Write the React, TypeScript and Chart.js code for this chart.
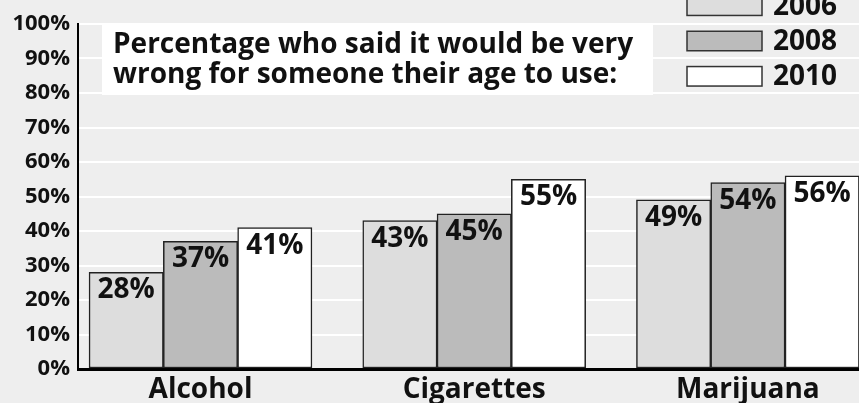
import React, { useEffect, useRef } from "react";
import { Chart, registerables } from "chart.js";

Chart.register(...registerables);

const categories = ["Alcohol", "Cigarettes", "Marijuana"];
const seriesLabels = ["2006", "2008", "2010"];
const values2006 = [28, 43, 49];
const values2008 = [37, 45, 54];
const values2010 = [41, 55, 56];
const seriesValues = [values2006, values2008, values2010];
const seriesColors = ["#dddddd", "#bbbbbb", "#ffffff"];
const yTicks = [0, 10, 20, 30, 40, 50, 60, 70, 80, 90, 100];
const titleLines = [
  "Percentage who said it would be very",
  "wrong for someone their age to use:",
];

const FONT = '"Open Sans", "Liberation Sans", sans-serif';
const W = 859;
const H = 403;

const bgPlugin = {
  id: "bg",
  beforeDraw(chart: any) {
    const ctx = chart.ctx;
    ctx.save();
    ctx.fillStyle = "#eeeeee";
    ctx.fillRect(0, 0, chart.width, chart.height);
    ctx.restore();
  },
};

const labelPlugin = {
  id: "valueLabels",
  afterDatasetsDraw(chart: any) {
    const ctx = chart.ctx;
    ctx.save();
    ctx.font = `bold 28px ${FONT}`;
    ctx.fillStyle = "#111";
    ctx.textAlign = "center";
    ctx.textBaseline = "alphabetic";
    chart.data.datasets.forEach((ds: any, di: number) => {
      const meta = chart.getDatasetMeta(di);
      meta.data.forEach((el: any, i: number) => {
        const v = ds.data[i].y;
        ctx.fillText(v + "%", el.x, el.y + 26);
      });
    });
    ctx.restore();
  },
};

const overlayPlugin = {
  id: "overlay",
  afterDraw(chart: any) {
    const ctx = chart.ctx;
    ctx.save();
    // title box
    ctx.fillStyle = "#ffffff";
    ctx.fillRect(102, 23, 551, 72);
    ctx.fillStyle = "#111";
    ctx.font = `bold 28px ${FONT}`;
    ctx.textAlign = "left";
    ctx.textBaseline = "alphabetic";
    titleLines.forEach((t, i) => ctx.fillText(t, 113, 53 + i * 30));
    // legend
    chart.data.datasets.forEach((ds: any, i: number) => {
      const cy = 76.3 - (chart.data.datasets.length - 1 - i) * 35.3;
      ctx.fillStyle = ds.backgroundColor;
      ctx.fillRect(687, cy - 9.75, 75, 19.5);
      ctx.strokeStyle = "#333";
      ctx.lineWidth = 1.5;
      ctx.strokeRect(687, cy - 9.75, 75, 19.5);
      ctx.fillStyle = "#111";
      ctx.font = `bold 28px ${FONT}`;
      ctx.textBaseline = "middle";
      ctx.fillText(ds.label, 773, cy + 1);
    });
    ctx.restore();
  },
};

export default function App() {
  const ref = useRef<HTMLCanvasElement | null>(null);
  useEffect(() => {
    let chart: Chart | null = null;
    let cancelled = false;
    const make = () => {
      if (cancelled || !ref.current) return;
      const xMin = -0.44757;
      const xMax = 2.40592;
      chart = new Chart(ref.current, {
        type: "bar",
        data: {
          datasets: seriesLabels.map((label, si) => ({
            label,
            data: seriesValues[si].map((v, i) => ({ x: i, y: v })),
            backgroundColor: seriesColors[si],
            borderColor: "#222",
            borderWidth: 1.5,
            borderSkipped: false,
            barThickness: 74.3,
          })),
        },
        options: {
          responsive: false,
          animation: false,
          layout: { padding: { top: 24, left: 0, right: 0, bottom: 0 } },
          plugins: {
            legend: { display: false },
            tooltip: { enabled: false },
            title: { display: false },
          },
          scales: {
            x: {
              type: "linear",
              min: xMin,
              max: xMax,
              offset: false,
              z: 1,
              grid: { display: false, drawTicks: false },
              border: { display: true, color: "#000", width: 3 },
              afterBuildTicks: (scale: any) => {
                scale.ticks = categories.map((_, i) => ({ value: i }));
              },
              afterFit: (scale: any) => {
                scale.height = 34;
              },
              ticks: {
                autoSkip: false,
                maxRotation: 0,
                padding: 4,
                color: "#111",
                font: { family: FONT, size: 28, weight: "bold" },
                callback: (v: any) => categories[Math.round(Number(v))] ?? "",
              },
            },
            y: {
              min: 0,
              max: 100,
              afterBuildTicks: (scale: any) => {
                scale.ticks = yTicks.map((v) => ({ value: v }));
              },
              afterFit: (scale: any) => {
                scale.width = 78;
              },
              grid: { color: "#ffffff", lineWidth: 2, drawTicks: false },
              border: { display: true, color: "#000", width: 2 },
              ticks: {
                padding: 8,
                color: "#111",
                font: { family: FONT, size: 22, weight: "bold" },
                callback: (v: any) => v + "%",
              },
            },
          },
        },
        plugins: [bgPlugin, labelPlugin, overlayPlugin],
      } as any);
    };
    const fontsAny = (document as any).fonts;
    if (fontsAny && fontsAny.load) {
      fontsAny.load(`bold 28px "Open Sans"`).then(make, make);
    } else make();
    return () => {
      cancelled = true;
      if (chart) chart.destroy();
    };
  }, []);
  return (
    <div style={{ position: "fixed", left: 0, top: 0, width: W, height: H, background: "#eeeeee" }}>
      <canvas ref={ref} width={W} height={H} style={{ display: "block", width: W, height: H }} />
    </div>
  );
}
